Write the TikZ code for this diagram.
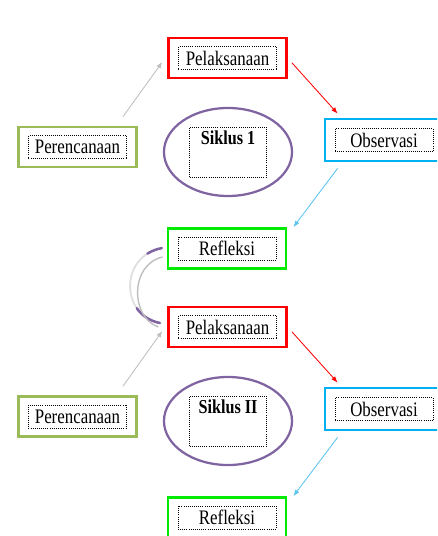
\documentclass[tikz,border=0pt]{standalone}
\usepackage{graphicx}
\usepackage{fontspec}
\setmainfont{Liberation Serif}
\usetikzlibrary{positioning,arrows.meta,shapes.geometric}

\definecolor{pelred}{RGB}{255,0,0}
\definecolor{perolive}{RGB}{155,187,89}
\definecolor{obsblue}{RGB}{0,176,240}
\definecolor{refgreen}{RGB}{0,235,0}
\definecolor{sikpurple}{RGB}{128,100,162}
\definecolor{arrowgray}{RGB}{190,190,190}
\definecolor{arrowblue}{RGB}{90,195,240}

% Word-style text: a little taller than it is wide.
\newcommand{\tallword}[1]{\scalebox{1}[1.22]{#1}}

\begin{document}
\begin{tikzpicture}[%
        x = 0.025cm,
        y = -0.025cm,
        outerbox/.style = {draw = #1, line width = 2pt, fill = white,
            minimum width = 2.95cm, minimum height = 1.0cm, inner sep = 0pt},
        innerbox/.style = {draw, densely dotted, line width = 0.5pt,
            minimum width = 2.45cm, minimum height = 0.58cm, inner sep = 1pt,
            font = \fontsize{12}{14}\selectfont},
        sikring/.style = {ellipse, draw = sikpurple, line width = 1.6pt,
            minimum width = 3.2cm, minimum height = 2.2cm},
        sikbox/.style = {draw, densely dotted, line width = 0.5pt,
            minimum width = 1.92cm, minimum height = 1.25cm},
        siktext/.style = {font = \fontsize{11.5}{13}\selectfont\bfseries, inner sep = 1pt},
        tip/.style = {-{Latex[length = 4.5pt, width = 3.5pt]}, line width = 0.6pt}
    ]

        \useasboundingbox (0,0) rectangle (437,536);
        \clip (0,0) rectangle (437,536);

        % First cycle.
        \node[outerbox = pelred] (pel1) at (227.5,58) {};
        \node[innerbox] (pel1t) at (pel1.center) {\tallword{Pelaksanaan}};
        \node[outerbox = perolive] (per1) at (77.5,147) {};
        \node[innerbox] (per1t) at (per1.center) {\tallword{Perencanaan}};
        \node[outerbox = obsblue, minimum height = 1.05cm] (obs1) at (384,140) {};
        \node[innerbox] (obs1t) at (obs1.center) {\tallword{Observasi}};
        \node[outerbox = refgreen] (ref1) at (227,248.5) {};
        \node[innerbox] (ref1t) at (ref1.center) {\tallword{Refleksi}};
        \node[sikring] (sik1) at (228,152) {};
        \node[sikbox] (sik1b) at (sik1.center) {};
        \node[siktext, below = 2pt of sik1b.north] (sik1t) {\tallword{Siklus 1}};

        % Second cycle, shift of the first.
        \node[outerbox = pelred] (pel2) at (227.5,327) {};
        \node[innerbox] (pel2t) at (pel2.center) {\tallword{Pelaksanaan}};
        \node[outerbox = perolive] (per2) at (77.5,416.5) {};
        \node[innerbox] (per2t) at (per2.center) {\tallword{Perencanaan}};
        \node[outerbox = obsblue, minimum height = 1.05cm] (obs2) at (384,409) {};
        \node[innerbox] (obs2t) at (obs2.center) {\tallword{Observasi}};
        \node[outerbox = refgreen] (ref2) at (227,517.5) {};
        \node[innerbox] (ref2t) at (ref2.center) {\tallword{Refleksi}};
        \node[sikring] (sik2) at (228,421) {};
        \node[sikbox] (sik2b) at (sik2.center) {};
        \node[siktext, below = 2pt of sik2b.north] (sik2t) {\tallword{Siklus II}};

        % Arrows round the first cycle.
        \draw[tip, arrowgray] ([xshift = -0.375cm, yshift = 0.22cm]per1.north east)
            -- ([xshift = -0.12cm, yshift = -0.1cm]pel1.west);
        \draw[tip, pelred] ([xshift = 0.1cm, yshift = -0.12cm]pel1.east)
            -- ([xshift = 0.35cm, yshift = 0.1cm]obs1.north west);
        \draw[tip, arrowblue] ([xshift = 0.35cm, yshift = -0.15cm]obs1.south west)
            -- ([xshift = 0.15cm]ref1.north east);

        % Arrows round the second cycle.
        \draw[tip, arrowgray] ([xshift = -0.375cm, yshift = 0.22cm]per2.north east)
            -- ([xshift = -0.12cm, yshift = -0.1cm]pel2.west);
        \draw[tip, pelred] ([xshift = 0.1cm, yshift = -0.12cm]pel2.east)
            -- ([xshift = 0.35cm, yshift = 0.1cm]obs2.north west);
        \draw[tip, arrowblue] ([xshift = 0.35cm, yshift = -0.15cm]obs2.south west)
            -- ([xshift = 0.15cm]ref2.north east);

        % Curved link from the first reflection to the second cycle.
        \draw[%
            line width = 1.3pt,
            gray!25,
            line cap = round
        ] ([xshift = -0.12cm, yshift = 0.01cm]ref1.west)
            .. controls +(-42,8) and +(-40,-8) .. ([xshift = -0.18cm, yshift = 0.1cm]pel2.west);
        \draw[%
            line width = 1.8pt,
            sikpurple,
            line cap = round,
            dash pattern = on 11pt off 44pt on 30pt
        ] ([xshift = -0.12cm, yshift = 0.01cm]ref1.west)
            .. controls +(-42,8) and +(-40,-8) .. ([xshift = -0.18cm, yshift = 0.1cm]pel2.west);
        \draw[%
            line width = 1pt,
            arrowgray
        ] ([xshift = -0.1cm, yshift = -0.21cm]ref1.west)
            .. controls +(-33,8) and +(-28,-10) .. ([xshift = -0.22cm]pel2.west);
    \end{tikzpicture}
\end{document}
